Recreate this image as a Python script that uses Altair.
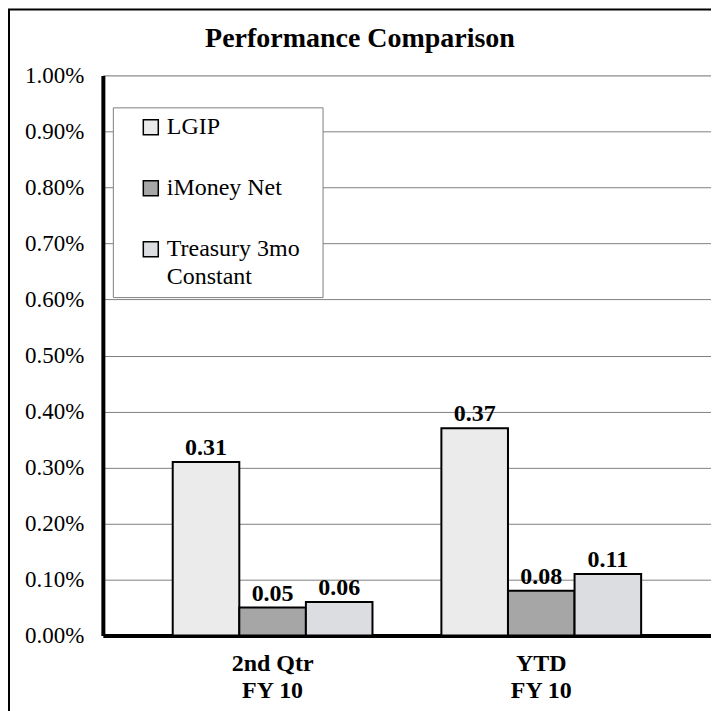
import altair as alt
import pandas as pd

categories = ["2nd Qtr\nFY 10", "YTD\nFY 10"]
series = ["LGIP", "iMoney Net", "Treasury 3mo Constant"]
lgip = [0.31, 0.37]
imoney = [0.05, 0.08]
treasury = [0.06, 0.11]
y_ticks = [0.0, 0.1, 0.2, 0.3, 0.4, 0.5, 0.6, 0.7, 0.8, 0.9, 1.0]
colors = ["#ebebeb", "#a6a6a6", "#dcdde1"]

rows = []
for vals, s in zip([lgip, imoney, treasury], series):
    for c, v in zip(categories, vals):
        rows.append({"category": c, "series": s, "value": v})
df = pd.DataFrame(rows)

FONT = "Times New Roman, Liberation Serif, Tinos, DejaVu Serif, serif"

x_enc = alt.X(
    "category:N", sort=categories,
    scale=alt.Scale(paddingInner=0.2565, paddingOuter=0.26),
    axis=alt.Axis(
        title=None, labelExpr="split(datum.label, '\\n')", labelAngle=0,
        labelFont=FONT, labelFontSize=24, labelFontWeight="bold", labelColor="black",
        labelLineHeight=27, labelPadding=16, labelBaseline="top",
        ticks=False, domainColor="black", domainWidth=4,
    ),
)
xo_enc = alt.XOffset("series:N", sort=series, scale=alt.Scale(paddingInner=0, paddingOuter=0))
y_enc = alt.Y(
    "value:Q", scale=alt.Scale(domain=[0, 1]),
    axis=alt.Axis(
        title=None, values=y_ticks, labelExpr="format(datum.value, '.2f') + '%'",
        labelFont=FONT, labelFontSize=23, labelColor="black", labelPadding=19,
        ticks=False, grid=True, gridColor="#808080", gridWidth=1,
        domainColor="black", domainWidth=4,
    ),
)

bars = alt.Chart(df).mark_bar(stroke="black", strokeWidth=2).encode(
    x=x_enc, xOffset=xo_enc, y=y_enc,
    color=alt.Color(
        "series:N", sort=series,
        scale=alt.Scale(domain=series, range=colors),
        legend=alt.Legend(
            title=" ", titleOrient="right", titleFontSize=2, titlePadding=15,
            orient="none", legendX=10, legendY=32, direction="vertical",
            fillColor="white", strokeColor="#808080", padding=8,
            symbolType="square", symbolSize=225, symbolStrokeColor="black",
            symbolStrokeWidth=1.5, symbolOffset=18,
            labelFont=FONT, labelFontSize=24, labelColor="black", labelOffset=4,
            labelLimit=0, rowPadding=37,
            labelExpr="datum.label == 'Treasury 3mo Constant' ? ['Treasury 3mo', 'Constant'] : datum.label",
        ),
    ),
)

labels = alt.Chart(df).mark_text(
    font=FONT, fontSize=24, fontWeight="bold", color="black", baseline="alphabetic", dy=-7
).encode(
    x=alt.X("category:N", sort=categories), xOffset=alt.XOffset("series:N", sort=series),
    y="value:Q", text=alt.Text("value:Q", format=".2f"),
)

frame = alt.Chart(alt.Data(values=[{"k": 1}])).mark_rect(
    fillOpacity=0, stroke="black", strokeWidth=2
).encode(
    x=alt.value(-94), y=alt.value(-66), x2=alt.value(720), y2=alt.value(720)
)

chart = alt.layer(bars, labels, frame).properties(
    width=609, height=561,
    title=alt.Title("Performance Comparison", font=FONT, fontSize=28, fontWeight="bold",
                    color="black", anchor="middle", dx=-47, dy=67, offset=22),
    autosize=alt.AutoSizeParams(type="none"),
    padding={"left": 95, "top": 67, "right": 0, "bottom": 75},
).configure_view(stroke="black", strokeWidth=3).configure(
    background="white", style={"guide-label": {"lineHeight": 28}}
)

chart.save("out.html", embed_options={"renderer": "svg", "actions": False})
